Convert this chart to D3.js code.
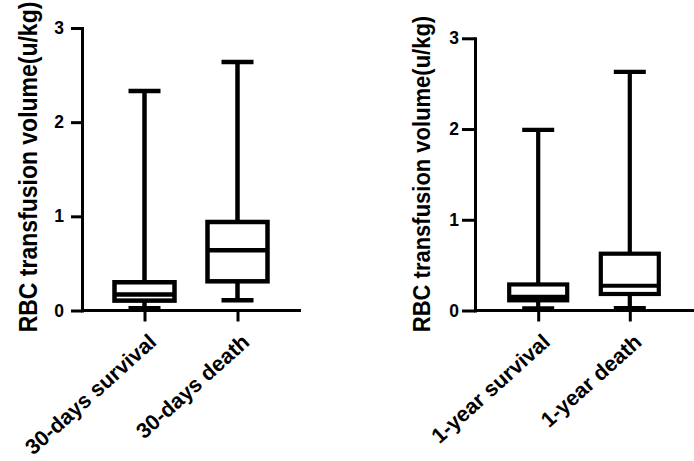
<!DOCTYPE html>
<html>
<head>
<meta charset="utf-8">
<script src="https://cdn.jsdelivr.net/npm/d3@7"></script>
<style>
  body { margin: 0; background: #fff; }
  text { font-family: "Liberation Sans", Arial, sans-serif; font-weight: bold; fill: #000; }
</style>
</head>
<body>
<svg id="chart" width="694" height="461"></svg>
<script>
// values (u/kg)
var groups30 = ['30-days survival', '30-days death'];
var min30 = [0.023, 0.11];
var q1_30 = [0.105, 0.31];
var med30 = [0.17, 0.64];
var q3_30 = [0.30, 0.94];
var max30 = [2.33, 2.64];

var groups1y = ['1-year survival', '1-year death'];
var min1y = [0.024, 0.027];
var q1_1y = [0.112, 0.182];
var med1y = [0.15, 0.273];
var q3_1y = [0.287, 0.626];
var max1y = [1.99, 2.63];

var yTicks = [0, 1, 2, 3];
var yLabel = 'RBC transfusion volume(u/kg)';

var svg = d3.select('#chart');

// panel layout
var panels = [
    { groups: groups30, min: min30, q1: q1_30, med: med30, q3: q3_30, max: max30,
      x0: 82, x1: 301, top: 28, bottom: 310.5, pad: 0.672, tick: 11, tickPad: 7,
      titleX: 37, titleY: 167, titleSize: 23, boxW: 60, stroke: 4.5 },
    { groups: groups1y, min: min1y, q1: q1_1y, med: med1y, q3: q3_1y, max: max1y,
      x0: 475, x1: 694, top: 38.3, bottom: 310.5, pad: 0.69, tick: 13, tickPad: 3,
      titleX: 430, titleY: 174, titleSize: 22, boxW: 58, stroke: 4.2 }
];

panels.forEach(drawPanel);

function drawPanel(p) {
    var g = svg.append('g');

    var yScale = d3.scaleLinear().domain([0, 3]).range([p.bottom, p.top]);
    var xScale = d3.scalePoint().domain(p.groups).range([p.x0, p.x1 - 1]).padding(p.pad);

    var rows = p.groups.map(function (name, i) {
        return { name: name, min: p.min[i], q1: p.q1[i], med: p.med[i], q3: p.q3[i], max: p.max[i] };
    });

    // boxes and whiskers
    var capW = 32;
    var boxes = g.selectAll('g.box')
        .data(rows)
        .join('g')
        .attr('class', 'box')
        .attr('fill', 'none')
        .attr('stroke', '#000')
        .attr('stroke-width', p.stroke);

    boxes.append('line')
        .attr('x1', d => xScale(d.name)).attr('x2', d => xScale(d.name))
        .attr('y1', d => yScale(d.max)).attr('y2', d => yScale(d.q3));
    boxes.append('line')
        .attr('x1', d => xScale(d.name)).attr('x2', d => xScale(d.name))
        .attr('y1', d => yScale(d.q1)).attr('y2', d => yScale(d.min));
    boxes.append('line')
        .attr('x1', d => xScale(d.name) - capW / 2).attr('x2', d => xScale(d.name) + capW / 2)
        .attr('y1', d => yScale(d.max)).attr('y2', d => yScale(d.max));
    boxes.append('line')
        .attr('x1', d => xScale(d.name) - capW / 2).attr('x2', d => xScale(d.name) + capW / 2)
        .attr('y1', d => yScale(d.min)).attr('y2', d => yScale(d.min));
    boxes.append('rect')
        .attr('x', d => xScale(d.name) - p.boxW / 2)
        .attr('width', p.boxW)
        .attr('y', d => yScale(d.q3))
        .attr('height', d => yScale(d.q1) - yScale(d.q3))
        .attr('fill', '#fff');
    boxes.append('line')
        .attr('x1', d => xScale(d.name) - p.boxW / 2).attr('x2', d => xScale(d.name) + p.boxW / 2)
        .attr('y1', d => yScale(d.med)).attr('y2', d => yScale(d.med));

    // y axis
    var yAxis = d3.axisLeft(yScale).tickValues(yTicks).tickFormat(d3.format('d'))
        .tickSize(p.tick).tickSizeOuter(0).tickPadding(p.tickPad);
    var ya = g.append('g')
        .attr('transform', 'translate(' + p.x0 + ',0)')
        .call(yAxis);
    ya.select('.domain').attr('stroke-width', 3).attr('stroke-linecap', 'square');
    ya.selectAll('.tick line').attr('stroke-width', 3);
    ya.selectAll('.tick text').style('font-size', '17.5px');

    // x axis
    var xAxis = d3.axisBottom(xScale).tickSize(11).tickSizeOuter(0).tickFormat('');
    var xa = g.append('g')
        .attr('transform', 'translate(0,' + p.bottom + ')')
        .call(xAxis);
    xa.select('.domain').attr('stroke-width', 3).attr('d', 'M' + p.x0 + ',0H' + p.x1);
    xa.selectAll('.tick line').attr('stroke-width', 3);

    // rotated category labels
    g.selectAll('text.cat')
        .data(p.groups)
        .join('text')
        .attr('class', 'cat')
        .attr('text-anchor', 'end')
        .attr('dy', '0.71em')
        .attr('transform', d => 'translate(' + (xScale(d) + 3) + ',' + (p.bottom + 22) + ') rotate(-42)')
        .style('font-size', '21.5px')
        .text(d => d);

    // y axis title
    g.append('text')
        .attr('text-anchor', 'middle')
        .attr('transform', 'translate(' + p.titleX + ',' + p.titleY + ') scale(1.1,1) rotate(-90)')
        .style('font-size', p.titleSize + 'px')
        .text(yLabel);
}
</script>
</body>
</html>
